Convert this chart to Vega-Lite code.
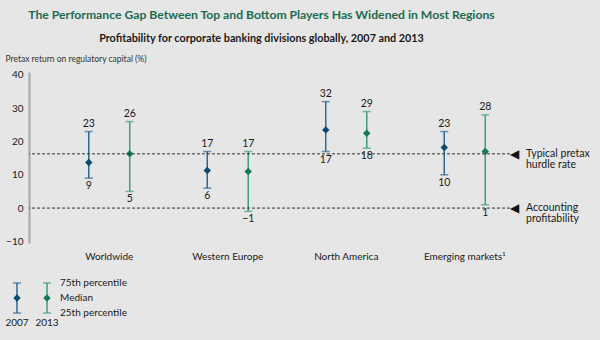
{
  "$schema": "https://vega.github.io/schema/vega-lite/v6.json",
  "autosize": {"type": "none"},
  "width": 481,
  "height": 171,
  "padding": {"left": 29, "top": 72, "right": 90, "bottom": 97},
  "background": "#e6e6e6",
  "config": {"view": {"stroke": null}, "font": "Lato", "text": {"font": "Lato"}, "axis": {"labelOverlap": false}},
  "title": {
    "text": "The Performance Gap Between Top and Bottom Players Has Widened in Most Regions",
    "subtitle": "Profitability for corporate banking divisions globally, 2007 and 2013",
    "anchor": "middle",
    "frame": "group",
    "dx": -8,
    "offset": 10,
    "font": "Lato",
    "fontSize": 12.2,
    "fontWeight": "bold",
    "color": "#1b6b50",
    "subtitleFont": "Lato",
    "subtitleFontSize": 10.8,
    "subtitleFontWeight": "bold",
    "subtitleColor": "#1a1a1a",
    "subtitlePadding": 12
  },
  "layer": [
    {
      "layer": [
        {
          "data": {"values": [
            {"region": "Worldwide", "year": "2007", "low": 9, "median": 13.7, "high": 23},
            {"region": "Worldwide", "year": "2013", "low": 5, "median": 16.3, "high": 26},
            {"region": "Western Europe", "year": "2007", "low": 6, "median": 11.3, "high": 17},
            {"region": "Western Europe", "year": "2013", "low": -1, "median": 11, "high": 17},
            {"region": "North America", "year": "2007", "low": 17, "median": 23.5, "high": 32},
            {"region": "North America", "year": "2013", "low": 18, "median": 22.5, "high": 29},
            {"region": "Emerging markets¹", "year": "2007", "low": 10, "median": 18.2, "high": 23},
            {"region": "Emerging markets¹", "year": "2013", "low": 1, "median": 17, "high": 28}
          ]},
          "encoding": {
            "x": {
              "field": "region", "type": "nominal", "sort": null,
              "scale": {"type": "band", "range": [21, 495], "paddingInner": 0, "paddingOuter": 0},
              "axis": {"title": null, "domain": false, "ticks": false, "labelAngle": 0, "labelPadding": 8, "labelFontSize": 10, "labelColor": "#1a1a1a", "labelFont": "Lato"}
            },
            "xOffset": {"field": "year", "type": "nominal", "scale": {"paddingInner": 0, "paddingOuter": 0.446}}
          },
          "layer": [
            {
              "mark": {"type": "rule", "strokeWidth": 1.5},
              "encoding": {
                "y": {
                  "field": "low", "type": "quantitative",
                  "scale": {"domain": [-10.5, 40.9], "nice": false, "zero": false},
                  "axis": {
                    "tickCount": 6, "grid": false, "ticks": false, "labelOverlap": false, "labelFlush": false, "labelBound": false,
                    "domainColor": "#a8a8a8", "domainWidth": 2, "labelFontSize": 10, "labelColor": "#1a1a1a", "labelPadding": 6, "labelFont": "Lato",
                    "title": "Pretax return on regulatory capital (%)", "titleAngle": 0, "titleAlign": "left", "titleBaseline": "middle",
                    "titleX": -24, "titleY": -14, "titleFontSize": 8.5, "titleFontWeight": "normal", "titleColor": "#333333", "titleFont": "Lato"
                  }
                },
                "y2": {"field": "high"},
                "color": {"field": "year", "type": "nominal", "scale": {"domain": ["2007", "2013"], "range": ["#2c6890", "#3d9d80"]}, "legend": null}
              }
            },
            {
              "mark": {"type": "tick", "thickness": 1.5, "size": 8, "orient": "horizontal"},
              "encoding": {
                "y": {"field": "low", "type": "quantitative"},
                "color": {"field": "year", "type": "nominal", "legend": null}
              }
            },
            {
              "mark": {"type": "tick", "thickness": 1.5, "size": 8, "orient": "horizontal"},
              "encoding": {
                "y": {"field": "high", "type": "quantitative"},
                "color": {"field": "year", "type": "nominal", "legend": null}
              }
            },
            {
              "mark": {"type": "point", "shape": "diamond", "filled": true, "size": 55, "opacity": 1},
              "encoding": {
                "y": {"field": "median", "type": "quantitative"},
                "fill": {"field": "year", "type": "nominal", "scale": {"domain": ["2007", "2013"], "range": ["#0b4a70", "#0f7a58"]}, "legend": null}
              }
            },
            {
              "mark": {"type": "text", "baseline": "bottom", "dy": -3, "fontSize": 10.5, "color": "#1a1a1a"},
              "encoding": {
                "y": {"field": "high", "type": "quantitative"},
                "text": {"field": "high", "type": "quantitative"}
              }
            },
            {
              "mark": {"type": "text", "baseline": "top", "dy": 3, "fontSize": 10.5, "color": "#1a1a1a"},
              "encoding": {
                "y": {"field": "low", "type": "quantitative"},
                "text": {"field": "low", "type": "quantitative"}
              }
            }
          ]
        },
        {
          "data": {"values": [
            {"ref": 16.3, "note": ["Typical pretax", "hurdle rate"]},
            {"ref": 0, "note": ["Accounting", "profitability"]}
          ]},
          "layer": [
            {
              "mark": {"type": "rule", "strokeDash": [3, 2], "strokeWidth": 1, "color": "#333333"},
              "encoding": {"y": {"field": "ref", "type": "quantitative"}}
            },
            {
              "mark": {"type": "text", "text": "◀", "fontSize": 12, "color": "#111111", "align": "left", "baseline": "middle", "dx": 0, "font": "DejaVu Sans"},
              "encoding": {"x": {"value": "width"}, "y": {"field": "ref", "type": "quantitative"}}
            },
            {
              "mark": {"type": "text", "fontSize": 10.5, "color": "#1a1a1a", "align": "left", "baseline": "middle", "dx": 16, "lineHeight": 11},
              "encoding": {"x": {"value": "width"}, "y": {"field": "ref", "type": "quantitative"}, "text": {"field": "note"}}
            }
          ]
        }
      ]
    },
    {
      "data": {"values": [
        {"year": "2007", "low": 25, "mid": 50, "high": 75},
        {"year": "2013", "low": 25, "mid": 50, "high": 75}
      ]},
      "encoding": {
        "x": {"field": "year", "type": "nominal", "scale": {"type": "point", "domain": ["2007", "2013"], "range": [-12, 18], "padding": 0}, "axis": null}
      },
      "layer": [
        {
          "mark": {"type": "rule", "strokeWidth": 1.5},
          "encoding": {
            "y": {"field": "low", "type": "quantitative", "scale": {"domain": [25, 75], "range": [241, 211]}, "axis": null},
            "y2": {"field": "high"},
            "color": {"field": "year", "type": "nominal", "scale": {"domain": ["2007", "2013"], "range": ["#2c6890", "#3d9d80"]}, "legend": null}
          }
        },
        {
          "mark": {"type": "tick", "thickness": 1.5, "size": 8, "orient": "horizontal"},
          "encoding": {"y": {"field": "low", "type": "quantitative", "axis": null}, "color": {"field": "year", "type": "nominal", "legend": null}}
        },
        {
          "mark": {"type": "tick", "thickness": 1.5, "size": 8, "orient": "horizontal"},
          "encoding": {"y": {"field": "high", "type": "quantitative", "axis": null}, "color": {"field": "year", "type": "nominal", "legend": null}}
        },
        {
          "mark": {"type": "point", "shape": "diamond", "filled": true, "size": 55, "opacity": 1},
          "encoding": {
            "y": {"field": "mid", "type": "quantitative", "axis": null},
            "fill": {"field": "year", "type": "nominal", "scale": {"domain": ["2007", "2013"], "range": ["#0b4a70", "#0f7a58"]}, "legend": null}
          }
        },
        {
          "mark": {"type": "text", "baseline": "middle", "dy": 10, "fontSize": 10, "color": "#1a1a1a"},
          "encoding": {"y": {"field": "low", "type": "quantitative", "axis": null}, "text": {"field": "year"}}
        },
        {
          "data": {"values": [
            {"pct": 75, "label": "75th percentile"},
            {"pct": 50, "label": "Median"},
            {"pct": 25, "label": "25th percentile"}
          ]},
          "mark": {"type": "text", "align": "left", "baseline": "middle", "dx": 13, "fontSize": 10, "color": "#1a1a1a"},
          "encoding": {"x": {"datum": "2013"}, "y": {"field": "pct", "type": "quantitative", "axis": null}, "text": {"field": "label"}}
        }
      ]
    }
  ],
  "resolve": {"scale": {"x": "independent", "y": "independent", "color": "independent", "fill": "independent"}}
}
